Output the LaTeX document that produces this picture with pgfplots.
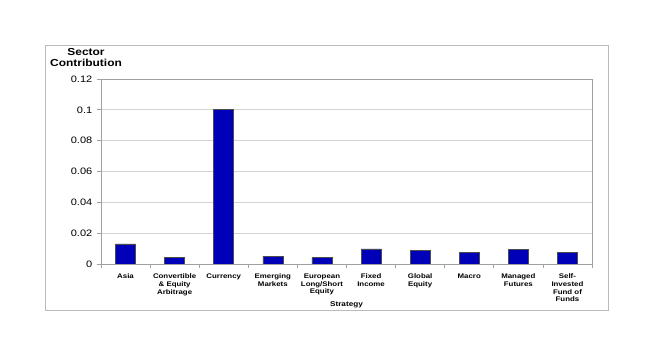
\documentclass[border=0pt]{standalone}
\usepackage{fontspec}
\setmainfont{Liberation Sans}[FakeStretch=1.18]
\usepackage{pgfplots}
\pgfplotsset{compat=1.18}
\definecolor{barblue}{HTML}{0000B8}
\definecolor{framegray}{HTML}{BBBBBB}
\definecolor{gridgray}{HTML}{D4D4D4}
\definecolor{axisgray}{HTML}{A0A0A0}

\begin{document}
\begin{tikzpicture}
% page size and outer chart frame
\path (0,0) rectangle (490.5pt,267.75pt);
\draw[framegray, line width=0.6pt] (33.75pt,35.25pt) rectangle (456pt,234pt);
\begin{axis}[
    at={(75.75pt,69.75pt)}, anchor=south west,
    scale only axis,
    width=368.25pt, height=138.75pt,
    xmin=-0.5, xmax=9.5,
    ymin=0, ymax=0.12,
    ytick={0,0.02,0.04,0.06,0.08,0.1,0.12},
    yticklabels={0,0.02,0.04,0.06,0.08,0.1,0.12},
    xtick={-0.5,0.5,1.5,2.5,3.5,4.5,5.5,6.5,7.5,8.5,9.5},
    x tick label as interval,
    xticklabels={Asia, Convertible\\\& Equity\\Arbitrage, Currency,
        Emerging\\Markets, European\\Long/Short\\Equity, Fixed\\Income,
        Global\\Equity, Macro, Managed\\Futures, Self-\\Invested\\Fund of\\Funds},
    x tick label style={font=\bfseries\fontsize{5}{5.7}\selectfont, align=center, anchor=north, yshift=-1pt},
    y tick label style={font=\fontsize{7}{8.4}\selectfont},
    ymajorgrids,
    grid style={gridgray, line width=0.6pt},
    axis line style={axisgray, line width=0.6pt},
    tick style={axisgray, line width=0.6pt},
    tick align=outside,
    tick pos=left,
    major tick length=3pt,
    xlabel={Strategy},
    xlabel style={font=\bfseries\fontsize{5.2}{6}\selectfont, at={(axis description cs:0.5,-0.22)}, anchor=center},
    ylabel={Sector\\Contribution},
    ylabel style={rotate=-90, align=center, inner sep=0pt, font=\bfseries\fontsize{7.6}{8.4}\selectfont,
        at={(axis description cs:-0.0305,1.065)}, anchor=south},
]
\addplot[ybar, bar width=15pt, fill=barblue, draw=black!70, line width=0.5pt]
  coordinates {(0,0.013) (1,0.0041) (2,0.1) (3,0.0049) (4,0.0041)
               (5,0.0098) (6,0.0087) (7,0.0073) (8,0.0094) (9,0.0073)};
\end{axis}
\end{tikzpicture}
\end{document}
